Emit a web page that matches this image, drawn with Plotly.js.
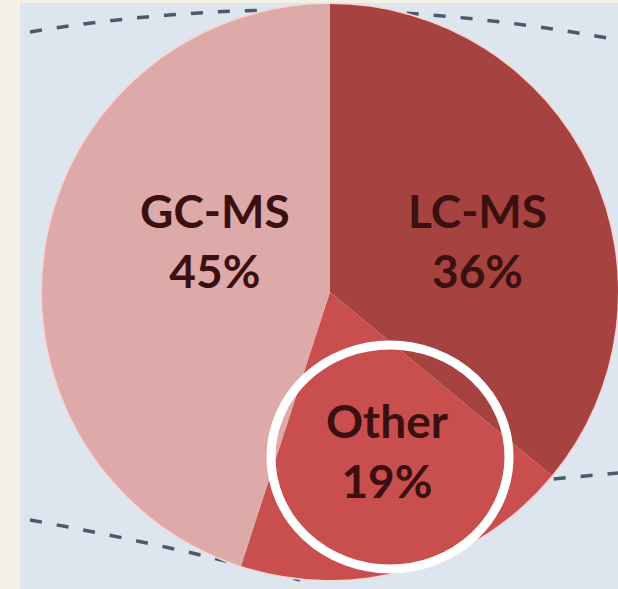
<!DOCTYPE html>
<html>
<head>
<meta charset="utf-8">
<script src="https://cdn.plot.ly/plotly-3.0.1.min.js"></script>
<style>
  html, body { margin: 0; padding: 0; background: #f3f0e6; }
  #bg { position: absolute; left: 20px; top: 3px; width: 598px; height: 586px; background: #dde5ef; }
  #chart { position: absolute; left: 0; top: 0; width: 618px; height: 589px; }
</style>
</head>
<body>
<div id="bg"></div>
<div id="chart"></div>
<script>
// ---- data ----
const categories = ["LC-MS", "Other", "GC-MS"];
const shares = [36, 19, 45];
const sliceColors = ["#a6423f", "#c94f4e", "#deaaa9"];

// ---- layout helpers (pixel -> paper) ----
const L = 42, T = 4, W = 576, H = 576;
const px = x => (x - L) / W;
const py = y => (T + H - y) / H;
const P = (x, y) => px(x).toFixed(4) + "," + py(y).toFixed(4);

const total = shares.reduce((a, b) => a + b, 0);
const labelPos = [[477, 240], [387, 450], [215, 240]];
const annotations = categories.map((c, i) => ({
  xref: "paper", yref: "paper",
  x: px(labelPos[i][0]), y: py(labelPos[i][1]),
  xanchor: "center", yanchor: "middle",
  text: c + "<br>" + Math.round(shares[i] / total * 100) + "%",
  showarrow: false,
  font: { family: "Lato, 'Open Sans', sans-serif", size: 46, color: "#3a1010", weight: 700 }
}));

const dashLine = { color: "#4d5868", width: 3.5, dash: "12px,15px" };
const shapes = [
  { type: "path", xref: "paper", yref: "paper", layer: "below",
    path: "M" + P(30, 32) + " Q" + P(320, -16) + " " + P(618, 40), line: dashLine },
  { type: "path", xref: "paper", yref: "paper", layer: "below",
    path: "M" + P(30, 520) + " Q" + P(170, 545) + " " + P(300, 580), line: dashLine },
  { type: "path", xref: "paper", yref: "paper", layer: "below",
    path: "M" + P(500, 484) + " L" + P(618, 473), line: dashLine },
  { type: "circle", xref: "paper", yref: "paper", layer: "below",
    x0: px(42), x1: px(618), y0: py(580), y1: py(4),
    fillcolor: "rgba(0,0,0,0)", line: { color: "#f6d6d4", width: 3 } },
  { type: "circle", xref: "paper", yref: "paper", layer: "above",
    x0: px(271), x1: px(509), y0: py(569), y1: py(345),
    line: { color: "#ffffff", width: 9 } }
];

const trace = {
  type: "pie",
  labels: categories,
  values: shares,
  sort: false,
  direction: "clockwise",
  rotation: 0,
  textinfo: "none",
  hoverinfo: "label+percent",
  marker: { colors: sliceColors, line: { color: "rgba(0,0,0,0)", width: 0 } },
  showlegend: false
};

const layout = {
  width: 618, height: 589,
  margin: { l: L, r: 618 - L - W, t: T, b: 589 - T - H, pad: 0 },
  paper_bgcolor: "rgba(0,0,0,0)",
  plot_bgcolor: "rgba(0,0,0,0)",
  showlegend: false,
  shapes: shapes,
  annotations: annotations
};

Plotly.newPlot("chart", [trace], layout, { displayModeBar: false, staticPlot: true });
</script>
</body>
</html>
